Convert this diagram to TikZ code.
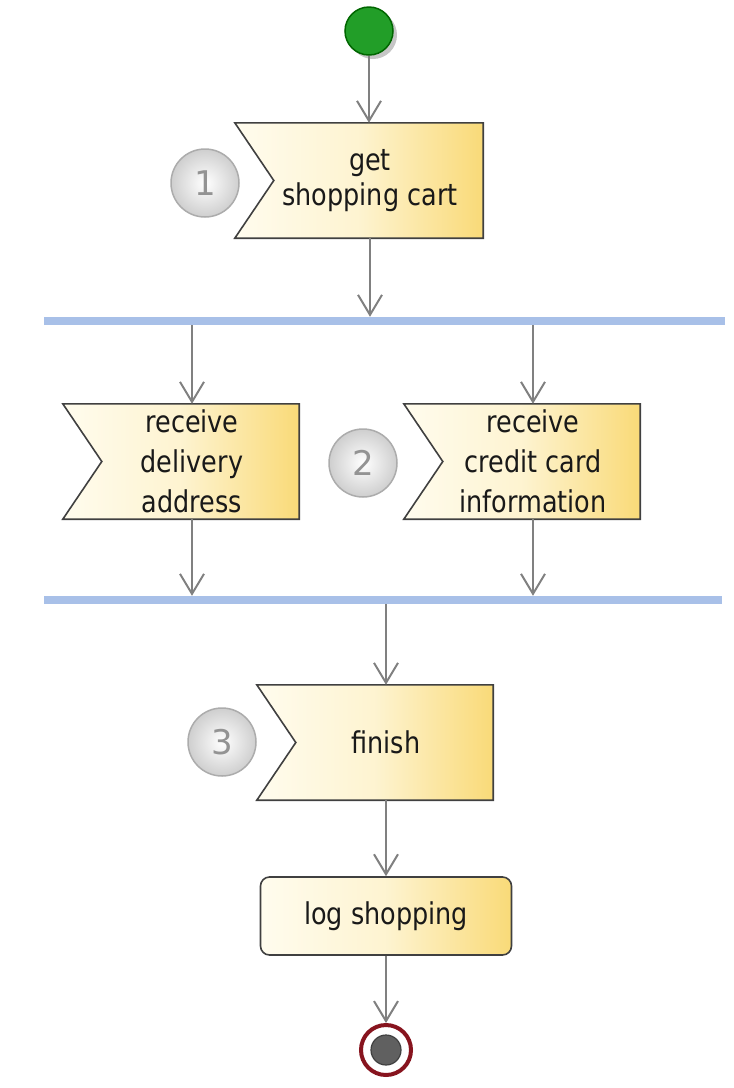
\documentclass[tikz,border=0pt]{standalone}
\usepackage{fontspec}
\newfontfamily\labelfont[FakeStretch=0.85]{DejaVu Sans}
\newfontfamily\numfont{DejaVu Sans}
\usepackage{xcolor}
\usetikzlibrary{arrows.meta, positioning, backgrounds, shadows}

\definecolor{cream}{RGB}{255,252,238}
\definecolor{wheat}{RGB}{249,218,120}
\definecolor{barblue}{RGB}{168,192,232}
\definecolor{flowgray}{RGB}{128,128,128}
\definecolor{startgreen}{RGB}{34,158,40}
\definecolor{endred}{RGB}{135,20,30}

\begin{document}
\begin{tikzpicture}[
    x=1pt, y=-1pt,
    action/.style={rectangle, minimum width=214pt, minimum height=115pt, inner sep=0pt, align=center, text=black!90, font=\labelfont\fontsize{30}{40}\selectfont},
    task/.style={rectangle, rounded corners=9pt, draw=black!75, line width=1.6pt, left color=cream, right color=wheat, middle color=cream!75!wheat, minimum width=251pt, minimum height=78pt, align=center, text=black!90, font=\labelfont\fontsize{30}{40}\selectfont},
    bar/.style={rectangle, fill=barblue, minimum height=8pt, inner sep=0pt},
    stepnum/.style={circle, minimum size=68pt, inner sep=0pt, draw=gray!65, line width=1.5pt, inner color=white, outer color=gray!38, text=gray!85, font=\numfont\fontsize{34}{34}\selectfont},
    flow/.style={draw=flowgray, line width=2pt, -{Straight Barb[length=20pt, width=24pt]}},
    >=Stealth
]
\useasboundingbox (0,0) rectangle (734,1088);

% Nodes
\node[circle, fill=startgreen, draw=black!60!green, line width=1.5pt, minimum size=48pt, inner sep=0pt,
      drop shadow={shadow xshift=4pt, shadow yshift=-4pt, opacity=0.45}] (start) at (369,31) {};
\node[action, minimum width=226pt, font=\labelfont\fontsize{30}{35}\selectfont] (cart) at (370,180.5) {get\\shopping cart};
\node[stepnum] (num1) at (205,183) {1};
\node[bar, minimum width=681pt] (fork) at (384.5,321) {};
\node[action] (addr) at (192,461.5) {receive\\delivery\\address};
\node[action] (credit) at (533,461.5) {receive\\credit card\\information};
\node[stepnum] (num2) at (363,463) {2};
\node[bar, minimum width=678pt] (join) at (383,600) {};
\node[action] (finish) at (386,742.5) {finish};
\node[stepnum] (num3) at (222,742) {3};
\node[task] (log) at (386,916) {log shopping};
\node[circle, draw=endred, line width=4pt, fill=white, minimum size=50pt, inner sep=0pt] (end) at (386,1050) {};
\node[circle, draw=black!75, line width=1.2pt, fill=gray!75!black, minimum size=30pt, inner sep=0pt] (endcore) at (end) {};

% Notched outlines
\begin{scope}[on background layer]
\foreach \n in {cart,addr,credit,finish}
  \shadedraw[draw=black!75, line width=1.6pt, left color=cream, right color=wheat, middle color=cream!75!wheat]
    ([xshift=-22pt]\n.north west) -- (\n.north east) -- (\n.south east)
    -- ([xshift=-22pt]\n.south west) -- ([xshift=17pt]\n.west) -- cycle;
\end{scope}

% Connections
\draw[flow] (start) -- (start |- cart.north);
\draw[flow] (cart) -- (cart |- fork.north);
\draw[flow] (fork.south -| addr) -- (addr);
\draw[flow] (fork.south -| credit) -- (credit);
\draw[flow] (addr) -- (addr |- join.north);
\draw[flow] (credit) -- (credit |- join.north);
\draw[flow] (join.south -| finish) -- (finish);
\draw[flow] (finish) -- (finish |- log.north);
\draw[flow] (log) -- (log |- end.north);

\end{tikzpicture}
\end{document}
